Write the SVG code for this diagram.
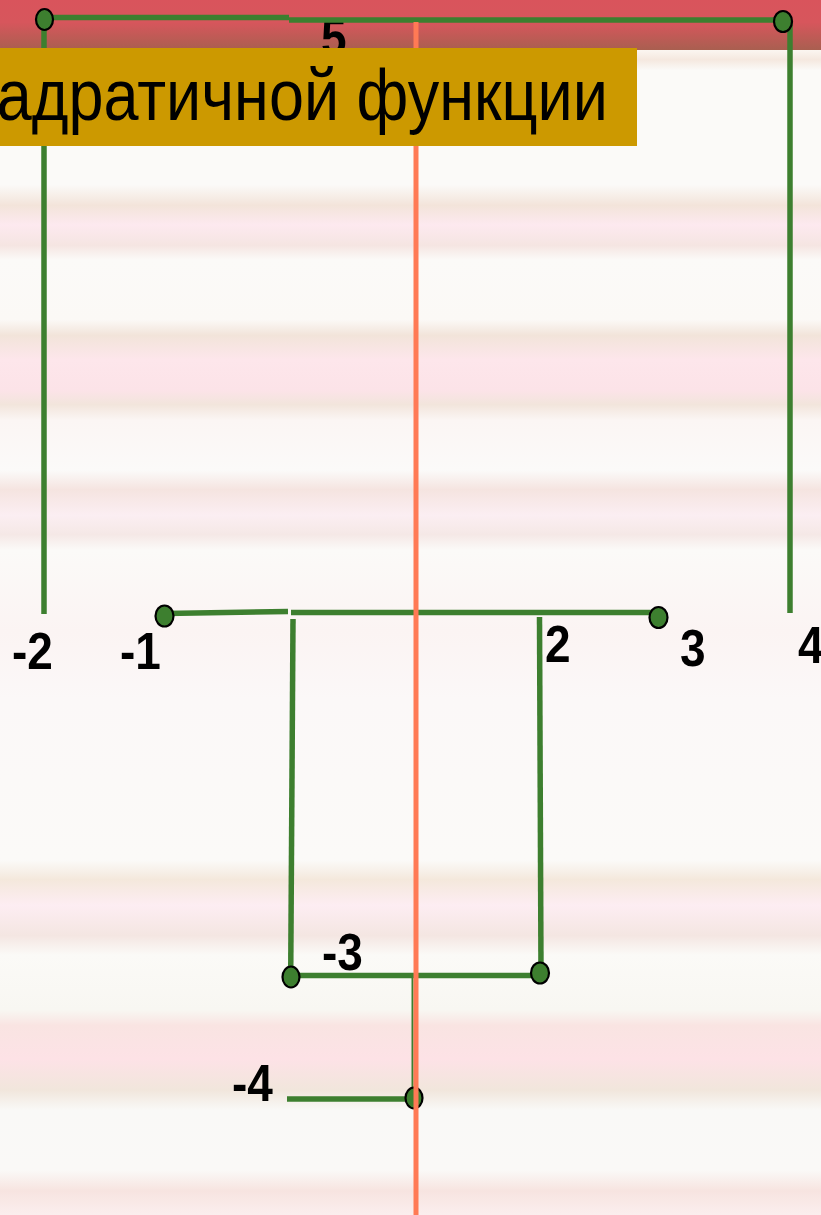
<svg xmlns="http://www.w3.org/2000/svg" width="821" height="1215" viewBox="0 0 821 1215">
  <defs>
    <linearGradient id="bg" gradientUnits="userSpaceOnUse" x1="0" y1="0" x2="0" y2="1215">
      <stop offset="0.041" stop-color="#fbf6f1"/>
      <stop offset="0.049" stop-color="#f5e8df"/>
      <stop offset="0.058" stop-color="#fbfaf8"/>
      <stop offset="0.152" stop-color="#fbfaf8"/>
      <stop offset="0.169" stop-color="#f3e4da"/>
      <stop offset="0.185" stop-color="#fde9ef"/>
      <stop offset="0.202" stop-color="#f5e5e2"/>
      <stop offset="0.214" stop-color="#fbfaf8"/>
      <stop offset="0.263" stop-color="#fbf9f6"/>
      <stop offset="0.276" stop-color="#f2e4da"/>
      <stop offset="0.296" stop-color="#fde6eb"/>
      <stop offset="0.321" stop-color="#fce3e8"/>
      <stop offset="0.333" stop-color="#f2e5dc"/>
      <stop offset="0.346" stop-color="#fbf6f4"/>
      <stop offset="0.387" stop-color="#fbfaf9"/>
      <stop offset="0.403" stop-color="#f5e4e0"/>
      <stop offset="0.424" stop-color="#fbeef2"/>
      <stop offset="0.440" stop-color="#f5e8e6"/>
      <stop offset="0.453" stop-color="#fbfaf8"/>
      <stop offset="0.52" stop-color="#fbf4f3"/>
      <stop offset="0.576" stop-color="#fbf8f8"/>
      <stop offset="0.708" stop-color="#fbfaf8"/>
      <stop offset="0.724" stop-color="#f4e8dc"/>
      <stop offset="0.745" stop-color="#fdedf2"/>
      <stop offset="0.770" stop-color="#f4e6e2"/>
      <stop offset="0.786" stop-color="#fbfaf7"/>
      <stop offset="0.831" stop-color="#f8f7f2"/>
      <stop offset="0.844" stop-color="#f9e4e2"/>
      <stop offset="0.872" stop-color="#fde2e6"/>
      <stop offset="0.897" stop-color="#f1e6dc"/>
      <stop offset="0.914" stop-color="#f9f9f7"/>
      <stop offset="0.963" stop-color="#faf9f7"/>
      <stop offset="0.980" stop-color="#f7e4e0"/>
      <stop offset="1" stop-color="#fbeeee"/>
    </linearGradient>
    <linearGradient id="band" x1="0" y1="0" x2="0" y2="1">
      <stop offset="0" stop-color="#d9545c"/>
      <stop offset="0.45" stop-color="#d7565c"/>
      <stop offset="1" stop-color="#a95f50"/>
    </linearGradient>
  </defs>
  <style>
    .g { stroke: #3d7f2f; stroke-width: 5.5; fill: none; stroke-linecap: butt; }
    .dot { fill: #3d7f2f; stroke: #000; stroke-width: 2.2; }
    .num { font-family: "Liberation Sans", Arial, sans-serif; font-weight: bold; font-size: 46px; fill: #000; }
    .title { font-family: "Liberation Sans", Arial, sans-serif; font-size: 63px; fill: #000; }
  </style>

  <rect x="0" y="0" width="821" height="1215" fill="url(#bg)"/>
  <rect x="0" y="0" width="821" height="50" fill="url(#band)"/>

  <g id="label-5"><text class="num" transform="translate(321,55) scale(1,1.12)">5</text></g>

  <g id="connectors">
    <path class="g" d="M44 17.5 H289"/>
    <path class="g" d="M289 20 H783"/>
    <path class="g" d="M44 19 V614"/>
    <path class="g" d="M790 21 V613"/>
    <path class="g" d="M165 613.5 L288 611.5"/>
    <path class="g" d="M291 612.5 H658"/>
    <path class="g" d="M293 619 L290.7 975"/>
    <path class="g" d="M539.5 617 L541 973"/>
    <path class="g" d="M291 975.5 H540"/>
    <path class="g" d="M287 1099 H414"/>
    <path class="g" style="stroke-width:2" d="M412.5 975 V1098"/>
  </g>

  <g id="node-top-left"><ellipse class="dot" cx="44.5" cy="19.5" rx="8.5" ry="10.5"/></g>
  <g id="node-top-right"><ellipse class="dot" cx="783" cy="21.5" rx="9" ry="10.5"/></g>
  <g id="node-mid-left"><ellipse class="dot" cx="164.5" cy="616" rx="9" ry="10.5"/></g>
  <g id="node-mid-right"><ellipse class="dot" cx="658.5" cy="617.5" rx="9" ry="10.5"/></g>
  <g id="node-low-left"><ellipse class="dot" cx="291" cy="977" rx="8.5" ry="10.5"/></g>
  <g id="node-low-right"><ellipse class="dot" cx="540" cy="973" rx="9" ry="10.5"/></g>
  <g id="node-bottom"><ellipse class="dot" cx="414" cy="1098" rx="8.5" ry="10.5"/></g>

  <g id="axis"><line x1="416" y1="22" x2="416" y2="1215" stroke="#ff7a55" stroke-width="5"/></g>

  <g id="title">
    <rect x="0" y="48" width="637" height="98" fill="#cc9900"/>
    <text class="title" text-anchor="end" transform="translate(608,120) scale(1,1.15)">адратичной функции</text>
  </g>

  <g id="labels">
    <text class="num" transform="translate(12,669) scale(1,1.12)">-2</text>
    <text class="num" transform="translate(120,669) scale(1,1.12)">-1</text>
    <text class="num" transform="translate(545,662) scale(1,1.12)">2</text>
    <text class="num" transform="translate(680,666) scale(1,1.12)">3</text>
    <text class="num" transform="translate(798,663) scale(1,1.12)">4</text>
    <text class="num" transform="translate(322,970) scale(1,1.12)">-3</text>
    <text class="num" transform="translate(232,1101) scale(1,1.12)">-4</text>
  </g>
</svg>
